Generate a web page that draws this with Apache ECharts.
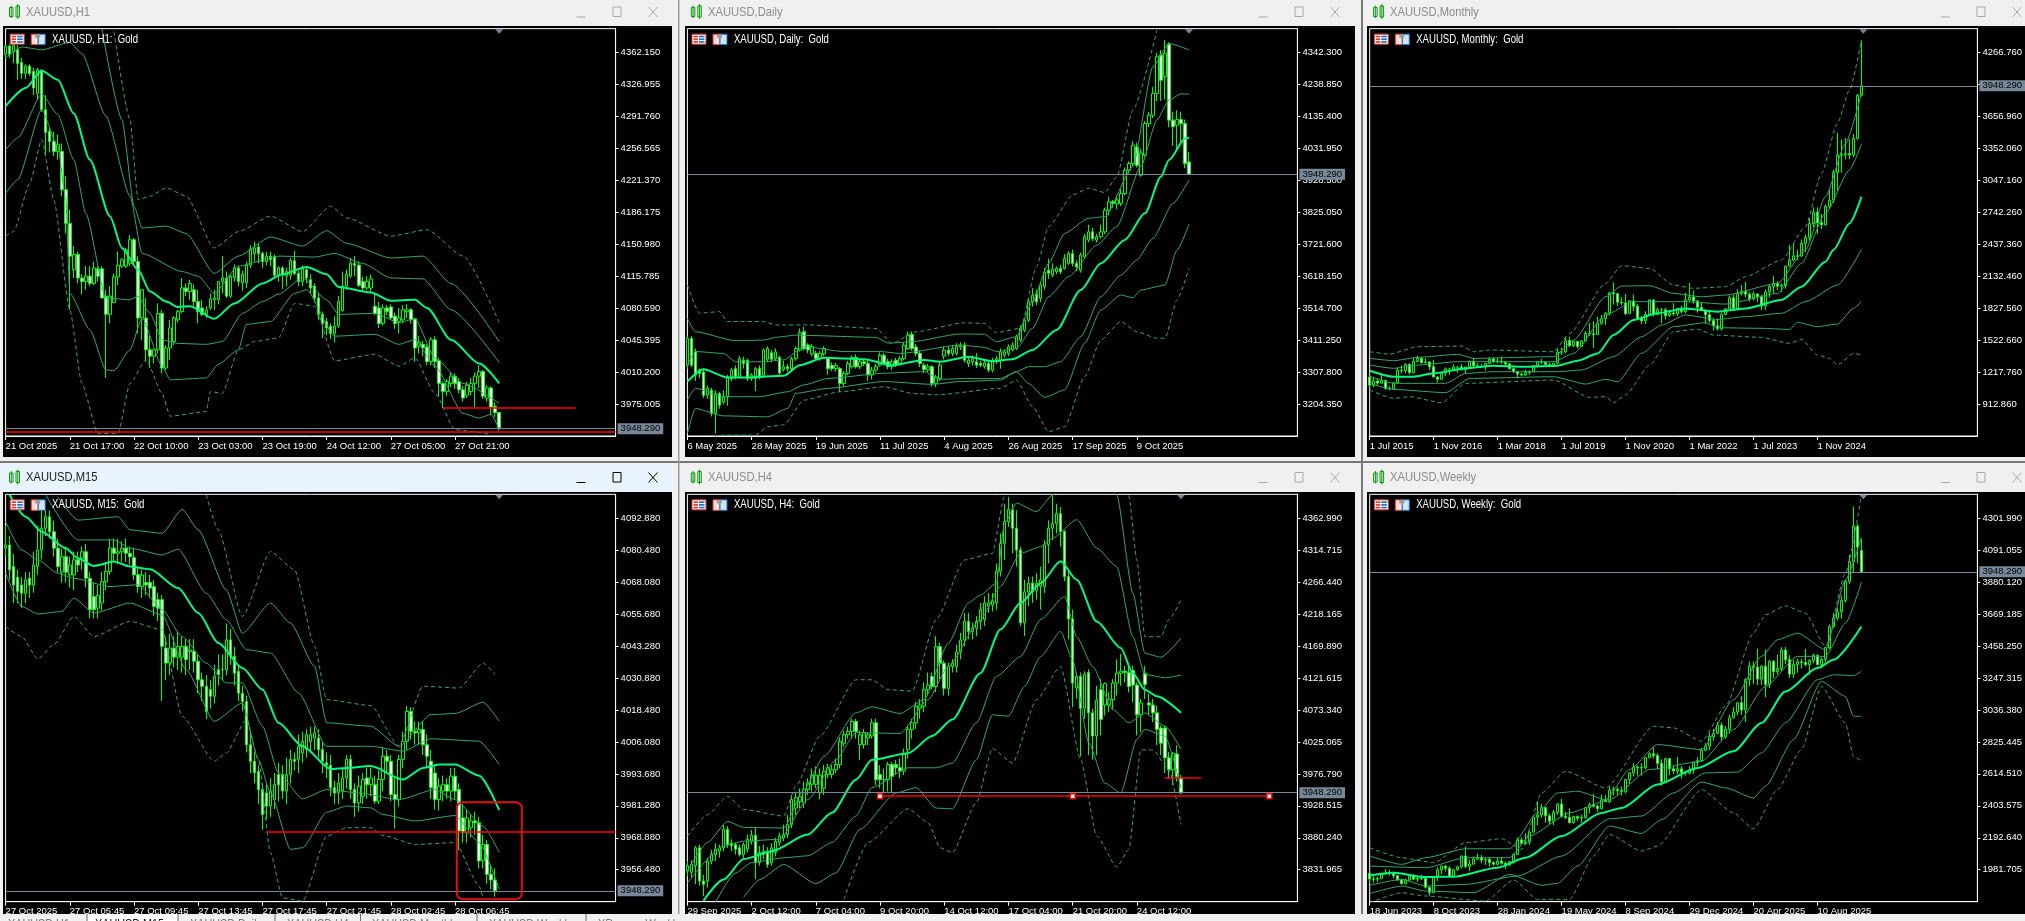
<!DOCTYPE html>
<html><head><meta charset="utf-8"><style>html,body{margin:0;padding:0;background:#f0f0f0;overflow:hidden}#c{width:2025px;height:921px}</style>
<script src="https://cdn.jsdelivr.net/npm/echarts@6/dist/echarts.min.js"></script></head><body><div id="c"></div><script>
const LAST=3948.29;
/* ---------- H1 ---------- */
const h1Ticks=['21 Oct 2025','21 Oct 17:00','22 Oct 10:00','23 Oct 03:00','23 Oct 19:00','24 Oct 12:00','27 Oct 05:00','27 Oct 21:00'];
const h1Prices=[4362.15,4326.955,4291.76,4256.565,4221.37,4186.175,4150.98,4115.785,4080.59,4045.395,4010.2,3975.005];
const h1Candles=[[4360,4369,4356,4370],[4369,4360,4356,4371],[4363,4370,4350,4372],[4365,4350,4332,4370],[4351,4339,4333,4356],[4339,4347,4333,4349],[4347,4339,4336,4349],[4341,4323,4315,4345],[4317,4343,4310,4345],[4342,4299,4297,4344],[4299,4274,4248,4315],[4275,4264,4252,4279],[4264,4253,4248,4275],[4253,4261,4244,4272],[4253,4211,4204,4262],[4211,4174,4163,4226],[4174,4138,4079,4189],[4123,4140,4114,4149],[4140,4114,4108,4143],[4114,4110,4096,4118],[4110,4116,4101,4127],[4116,4108,4105,4127],[4108,4125,4106,4132],[4124,4116,4110,4127],[4124,4092,4092,4127],[4094,4074,4004,4101],[4074,4094,4064,4105],[4087,4115,4087,4119],[4115,4128,4106,4143],[4127,4134,4125,4136],[4127,4145,4125,4147],[4130,4156,4127,4161],[4156,4132,4127,4158],[4132,4070,4053,4138],[4070,4101,4046,4101],[4070,4035,4022,4092],[4035,4028,4015,4050],[4028,4035,4020,4036],[4035,4075,4031,4086],[4075,4015,4009,4079],[4015,4037,4013,4040],[4037,4059,4024,4068],[4044,4070,4040,4072],[4068,4077,4065,4079],[4077,4103,4075,4114],[4103,4099,4094,4108],[4099,4108,4090,4112],[4101,4088,4083,4107],[4088,4077,4064,4101],[4081,4074,4072,4090],[4074,4079,4070,4083],[4081,4091,4079,4097],[4090,4092,4079,4101],[4090,4110,4085,4110],[4110,4114,4097,4138],[4114,4094,4092,4121],[4094,4116,4092,4118],[4114,4125,4110,4129],[4125,4110,4105,4127],[4109,4118,4100,4122],[4109,4128,4103,4132],[4128,4146,4125,4150],[4141,4147,4132,4154],[4148,4141,4130,4152],[4141,4132,4125,4143],[4132,4138,4128,4143],[4138,4134,4127,4143],[4137,4117,4113,4140],[4117,4125,4110,4127],[4125,4117,4102,4127],[4116,4121,4105,4125],[4117,4133,4112,4136],[4133,4119,4117,4144],[4119,4110,4105,4122],[4110,4125,4105,4128],[4123,4114,4108,4127],[4112,4103,4096,4118],[4105,4092,4087,4108],[4092,4074,4068,4098],[4074,4064,4048,4077],[4066,4059,4051,4070],[4061,4053,4047,4064],[4053,4061,4043,4072],[4061,4088,4059,4094],[4078,4105,4077,4121],[4105,4118,4101,4123],[4116,4130,4114,4136],[4130,4128,4116,4138],[4128,4106,4104,4132],[4110,4103,4100,4115],[4103,4110,4101,4116],[4103,4113,4098,4118],[4083,4075,4073,4097],[4081,4064,4059,4088],[4064,4081,4062,4085],[4081,4077,4073,4084],[4082,4070,4068,4085],[4072,4064,4058,4076],[4066,4070,4053,4081],[4068,4079,4064,4084],[4077,4079,4070,4085],[4079,4068,4064,4081],[4069,4037,4022,4070],[4039,4043,4031,4050],[4041,4037,4028,4045],[4038,4022,4018,4041],[4022,4046,4018,4049],[4046,4022,4015,4050],[4023,3998,3984,4026],[3998,3989,3971,4000],[3989,4000,3984,4003],[3998,4006,3994,4010],[4006,3998,3992,4009],[4000,3991,3987,4004],[3991,3982,3978,3995],[3985,3996,3982,4000],[3989,3998,3985,4004],[3998,4006,3972,4010],[4006,4011,3993,4018],[4011,3984,3981,4013],[3982,3993,3978,3996],[3993,3972,3963,3995],[3973,3966,3961,3977],[3966,3949,3946,3966]];
const h1Mid=[[0,4303],[5,4323],[9,4342],[13,4332],[17,4295],[21,4244],[26,4182],[29,4147],[33,4123],[36,4099],[40,4088],[43,4082],[46,4083],[52,4069],[57,4086],[64,4108],[69,4118],[75,4126],[80,4118],[83,4104],[91,4098],[96,4089],[102,4090],[105,4081],[111,4046],[118,4020],[123,3998]];
const h1U1=[[0,4356],[4,4368],[9,4365],[16,4373],[19,4361],[25,4292],[31,4204],[34,4141],[44,4121],[48,4116],[52,4097],[58,4127],[68,4138],[77,4137],[82,4141],[89,4130],[96,4114],[104,4113],[111,4079],[123,4021]];
const h1U2=[[24,4388],[29,4288],[32,4193],[34,4169],[40,4171],[45,4163],[52,4119],[58,4138],[66,4159],[74,4149],[80,4166],[85,4152],[96,4136],[104,4138],[111,4108],[123,4044]];
const h1U3=[[27,4385],[31,4288],[33,4200],[36,4204],[40,4213],[45,4204],[52,4147],[58,4165],[66,4182],[74,4165],[81,4193],[85,4180],[96,4160],[105,4167],[114,4138],[123,4065]];
const h1L1=[[0,4255],[3,4268],[9,4316],[13,4294],[17,4244],[20,4185],[25,4092],[31,4090],[33,4094],[36,4075],[39,4046],[43,4042],[50,4041],[54,4044],[59,4075],[64,4088],[68,4096],[74,4114],[80,4090],[83,4074],[92,4075],[98,4065],[102,4069],[107,4026],[114,3998],[123,3976]];
const h1L2=[[0,4207],[3,4222],[9,4299],[13,4259],[15,4200],[16,4097],[21,4057],[25,4013],[27,4012],[31,4035],[34,4070],[39,4017],[41,4002],[50,4004],[53,4019],[58,4035],[60,4063],[66,4066],[72,4097],[75,4101],[82,4050],[92,4052],[98,4041],[102,4046],[107,4017],[114,3965],[118,3960],[121,3964],[123,3947]];
const h1L3=[[0,4160],[2,4165],[6,4218],[9,4266],[12,4200],[16,4079],[19,3998],[23,3943],[28,3943],[31,3998],[35,4024],[39,3987],[41,3962],[50,3967],[51,3989],[54,3987],[58,4035],[62,4044],[68,4048],[72,4086],[77,4083],[82,4023],[92,4030],[98,4017],[102,4026],[107,3987],[112,3947],[121,3942]];
const h1Red=[[0,3944.6,152,3944.6],[109,3971,142,3971]];
/* ---------- Daily ---------- */
const dTicks=['6 May 2025','28 May 2025','19 Jun 2025','11 Jul 2025','4 Aug 2025','26 Aug 2025','17 Sep 2025','9 Oct 2025'];
const dPrices=[4342.3,4238.85,4135.4,4031.95,3928.5,3825.05,3721.6,3618.15,3514.7,3411.25,3307.8,3204.35];
const dCandles=[[3331,3417,3320,3425],[3417,3331,3325,3425],[3374,3299,3280,3385],[3315,3304,3290,3320],[3309,3234,3225,3320],[3234,3256,3222,3265],[3250,3175,3165,3258],[3175,3239,3110,3250],[3239,3202,3190,3245],[3212,3228,3205,3250],[3228,3293,3200,3300],[3288,3315,3280,3322],[3320,3293,3285,3330],[3293,3352,3288,3360],[3347,3336,3320,3358],[3347,3288,3280,3352],[3288,3299,3280,3305],[3288,3320,3247,3325],[3320,3293,3285,3330],[3299,3380,3290,3385],[3350,3385,3342,3392],[3371,3350,3340,3380],[3352,3374,3345,3385],[3356,3306,3300,3362],[3317,3326,3310,3345],[3326,3320,3310,3335],[3320,3352,3312,3358],[3352,3385,3345,3392],[3380,3436,3375,3450],[3439,3385,3378,3455],[3396,3380,3370,3402],[3367,3392,3360,3400],[3369,3352,3345,3378],[3352,3369,3345,3378],[3367,3385,3360,3392],[3352,3320,3300,3358],[3330,3320,3312,3340],[3320,3330,3310,3338],[3320,3272,3245,3326],[3272,3304,3260,3312],[3304,3336,3298,3345],[3326,3356,3320,3362],[3356,3326,3320,3366],[3326,3342,3318,3350],[3342,3336,3328,3350],[3336,3299,3280,3345],[3299,3315,3285,3325],[3315,3326,3308,3335],[3331,3363,3326,3372],[3363,3336,3330,3370],[3342,3326,3318,3352],[3326,3342,3316,3350],[3347,3331,3325,3355],[3336,3352,3330,3360],[3352,3396,3346,3405],[3385,3428,3380,3440],[3430,3385,3378,3440],[3390,3369,3360,3400],[3369,3336,3325,3378],[3331,3317,3305,3338],[3315,3326,3308,3335],[3326,3272,3262,3332],[3272,3293,3260,3300],[3288,3331,3280,3342],[3360,3380,3350,3392],[3380,3369,3360,3392],[3369,3385,3360,3395],[3369,3392,3362,3402],[3390,3396,3380,3405],[3396,3347,3340,3405],[3336,3347,3325,3355],[3342,3352,3330,3362],[3342,3331,3322,3370],[3336,3331,3325,3345],[3327,3338,3320,3345],[3336,3315,3308,3345],[3315,3347,3308,3355],[3342,3352,3335,3360],[3347,3374,3320,3385],[3363,3374,3355,3382],[3369,3390,3360,3398],[3380,3396,3375,3405],[3385,3423,3380,3430],[3412,3450,3405,3460],[3444,3476,3438,3482],[3476,3536,3470,3545],[3536,3557,3520,3580],[3562,3536,3525,3575],[3547,3590,3535,3600],[3585,3632,3575,3645],[3638,3628,3610,3675],[3622,3640,3615,3660],[3633,3644,3625,3650],[3644,3633,3625,3655],[3644,3676,3640,3690],[3660,3692,3655,3700],[3692,3660,3650,3705],[3660,3649,3635,3670],[3638,3687,3630,3695],[3681,3746,3676,3755],[3735,3762,3728,3785],[3762,3740,3732,3775],[3735,3746,3728,3755],[3746,3762,3740,3785],[3762,3832,3755,3840],[3832,3859,3815,3875],[3859,3854,3840,3865],[3852,3865,3835,3880],[3854,3886,3845,3900],[3886,3961,3880,3970],[3961,3983,3950,3990],[3983,4042,3975,4055],[4036,3977,3970,4050],[3945,4017,3940,4030],[4010,4112,4005,4120],[4112,4139,4100,4150],[4139,4209,4130,4230],[4209,4328,4185,4340],[4333,4252,4185,4350],[4264,4339,4190,4382],[4368,4123,4100,4375],[4123,4102,4040,4150],[4107,4125,4030,4155],[4125,4112,4050,4150],[4112,3983,3968,4125],[3988,3948,3946,4020]];
const dMid=[[0,3278],[4,3318],[10,3291],[15,3291],[24,3297],[28,3331],[34,3355],[44,3350],[51,3331],[59,3348],[63,3342],[70,3358],[76,3344],[81,3350],[86,3380],[92,3445],[98,3574],[103,3660],[109,3736],[114,3822],[118,3940],[120,3994],[124,4064],[125,4067]];
const dU1=[[0,3331],[2,3375],[9,3369],[12,3342],[19,3342],[24,3348],[29,3391],[39,3375],[48,3375],[53,3369],[68,3396],[74,3389],[77,3375],[82,3385],[86,3450],[90,3552],[95,3617],[102,3719],[107,3779],[113,3973],[117,4124],[120,4188],[123,4208],[125,4207]];
const dU2=[[0,3482],[2,3439],[12,3410],[19,3412],[22,3421],[27,3428],[47,3421],[50,3402],[56,3407],[68,3432],[74,3431],[77,3407],[82,3423],[86,3536],[90,3660],[94,3757],[100,3806],[104,3811],[111,3973],[116,4296],[120,4371],[125,4350]];
const dU3=[[0,3590],[3,3499],[8,3504],[10,3472],[19,3472],[22,3461],[30,3461],[47,3450],[51,3402],[57,3439],[69,3468],[74,3466],[77,3436],[83,3450],[87,3649],[90,3779],[96,3881],[100,3903],[104,3889],[107,3940],[111,4156],[117,4414]];
const dL1=[[0,3218],[2,3256],[9,3229],[18,3229],[25,3245],[29,3267],[35,3288],[49,3305],[59,3310],[63,3285],[69,3288],[78,3288],[82,3310],[85,3326],[89,3326],[93,3342],[98,3423],[103,3552],[108,3622],[112,3671],[116,3741],[121,3854],[125,3930]];
const dL2=[[0,3111],[2,3191],[9,3167],[20,3164],[25,3191],[27,3240],[35,3256],[49,3278],[61,3269],[68,3278],[78,3283],[82,3310],[85,3272],[89,3227],[94,3251],[99,3402],[103,3509],[108,3558],[111,3549],[113,3574],[119,3590],[122,3703],[125,3787]];
const dL3=[[0,3068],[9,3105],[17,3105],[20,3132],[24,3138],[29,3218],[38,3245],[49,3261],[56,3240],[62,3235],[78,3256],[82,3283],[86,3197],[90,3116],[94,3132],[99,3294],[103,3412],[108,3472],[112,3439],[117,3418],[119,3418],[122,3542],[125,3644]];
/* ---------- Monthly ---------- */
const mTicks=['1 Jul 2015','1 Nov 2016','1 Mar 2018','1 Jul 2019','1 Nov 2020','1 Mar 2022','1 Jul 2023','1 Nov 2024'];
const mPrices=[4266.76,3961.86,3656.96,3352.06,3047.16,2742.26,2437.36,2132.46,1827.56,1522.66,1217.76,912.86];
const mCandles=[[1172,1095,1080,1180],[1095,1135,1078,1170],[1135,1115,1098,1157],[1115,1142,1108,1191],[1142,1065,1052,1146],[1065,1061,1046,1088],[1061,1118,1060,1125],[1118,1238,1110,1263],[1238,1233,1208,1284],[1233,1293,1208,1304],[1293,1215,1199,1303],[1215,1322,1208,1362],[1322,1351,1312,1375],[1351,1309,1301,1367],[1309,1316,1303,1352],[1316,1272,1241,1325],[1272,1173,1171,1338],[1173,1152,1122,1180],[1152,1211,1146,1220],[1211,1249,1180,1264],[1249,1249,1195,1261],[1249,1268,1240,1295],[1268,1268,1214,1270],[1268,1242,1236,1296],[1242,1269,1205,1270],[1269,1321,1267,1331],[1321,1280,1271,1357],[1280,1271,1261,1306],[1271,1275,1264,1299],[1275,1303,1236,1307],[1303,1345,1302,1366],[1345,1318,1307,1361],[1318,1325,1303,1356],[1325,1315,1301,1369],[1315,1298,1282,1326],[1298,1253,1245,1308],[1253,1224,1211,1265],[1224,1201,1160,1224],[1201,1192,1180,1215],[1192,1215,1183,1243],[1215,1222,1196,1237],[1222,1282,1221,1284],[1282,1321,1276,1326],[1321,1313,1300,1347],[1313,1292,1281,1324],[1292,1283,1266,1311],[1283,1305,1272,1309],[1305,1409,1296,1439],[1409,1413,1382,1452],[1413,1520,1401,1555],[1520,1472,1459,1557],[1472,1513,1458,1518],[1513,1464,1445,1514],[1464,1517,1459,1524],[1517,1589,1517,1611],[1589,1586,1563,1689],[1586,1577,1451,1704],[1577,1686,1576,1747],[1686,1730,1670,1765],[1730,1781,1671,1789],[1781,1975,1757,1984],[1975,1967,1863,2075],[1967,1886,1848,1973],[1886,1879,1860,1933],[1879,1777,1764,1965],[1777,1898,1775,1906],[1898,1847,1802,1959],[1847,1734,1717,1871],[1734,1708,1677,1755],[1708,1769,1677,1798],[1769,1907,1761,1913],[1907,1770,1750,1916],[1770,1814,1761,1834],[1814,1814,1684,1831],[1814,1757,1722,1834],[1757,1783,1746,1814],[1783,1774,1758,1877],[1774,1829,1753,1831],[1829,1797,1780,1853],[1797,1909,1781,1974],[1909,1937,1895,2070],[1937,1897,1872,1998],[1897,1837,1787,1910],[1837,1807,1805,1879],[1807,1766,1681,1815],[1766,1711,1690,1808],[1711,1661,1615,1735],[1661,1633,1617,1730],[1633,1768,1616,1786],[1768,1824,1765,1824],[1824,1928,1824,1949],[1928,1826,1804,1960],[1826,1969,1810,2009],[1969,1990,1950,2048],[1990,1962,1932,2079],[1962,1919,1893,1984],[1919,1965,1903,1987],[1965,1940,1885,1966],[1940,1849,1811,1953],[1849,1984,1810,2009],[1984,2036,1931,2052],[2036,2063,1973,2135],[2063,2039,2002,2088],[2039,2044,1985,2065],[2044,2230,2016,2235],[2230,2286,2228,2431],[2286,2327,2277,2450],[2327,2326,2287,2387],[2326,2447,2319,2483],[2447,2503,2364,2531],[2503,2635,2471,2685],[2635,2744,2603,2790],[2744,2643,2537,2790],[2643,2624,2583,2726],[2624,2798,2615,2817],[2798,2858,2772,2956],[2858,3123,2833,3149],[3123,3288,2957,3500],[3288,3289,3121,3435],[3289,3303,3247,3451],[3303,3290,3248,3439],[3290,3447,3268,3489],[3447,3858,3436,3872],[3858,3948,3845,4381]];
const mMid=[[0,1233],[6,1176],[11,1176],[16,1208],[24,1255],[31,1281],[39,1271],[47,1281],[52,1329],[57,1398],[61,1573],[66,1716],[72,1780],[79,1827],[87,1795],[94,1827],[103,1907],[108,2034],[114,2272],[116,2383],[120,2637],[123,2891]];
const mU1=[[0,1287],[6,1256],[12,1287],[22,1319],[26,1319],[46,1319],[51,1398],[59,1764],[66,1891],[79,1891],[89,1868],[102,1970],[108,2256],[114,2732],[120,3145],[123,3393]];
const mU2=[[0,1351],[6,1329],[12,1360],[22,1389],[26,1351],[46,1367],[51,1525],[59,1938],[63,2040],[70,2043],[76,1970],[83,1938],[89,1954],[102,2065],[109,2383],[114,2891],[119,3399],[123,3876]];
const mU3=[[0,1414],[5,1392],[12,1462],[23,1468],[26,1414],[30,1430],[46,1414],[50,1589],[59,2065],[63,2234],[70,2208],[76,2049],[81,2018],[89,2034],[94,2129],[103,2288],[109,2605],[113,3113],[117,3590],[120,3907],[123,4384]];
const mL1=[[0,1182],[6,1113],[19,1113],[24,1208],[31,1224],[47,1224],[53,1240],[61,1367],[68,1557],[73,1668],[79,1764],[87,1722],[94,1748],[103,1780],[109,1891],[117,2049],[123,2389]];
const mL2=[[0,1113],[6,1055],[19,1024],[25,1160],[46,1176],[54,1106],[59,1151],[62,1128],[68,1398],[76,1653],[84,1691],[87,1643],[98,1637],[105,1627],[107,1694],[112,1653],[117,1678],[121,1827],[123,1891]];
const mL3=[[0,1049],[6,970],[10,986],[18,928],[24,1113],[46,1144],[55,979],[59,986],[61,928],[64,1001],[70,1287],[76,1605],[82,1630],[86,1573],[98,1551],[105,1494],[108,1532],[112,1383],[115,1351],[117,1287],[121,1398],[123,1383]];
/* ---------- M15 ---------- */
const qTicks=['27 Oct 2025','27 Oct 05:45','27 Oct 09:45','27 Oct 13:45','27 Oct 17:45','27 Oct 21:45','28 Oct 02:45','28 Oct 06:45'];
const qPrices=[4092.88,4080.48,4068.08,4055.68,4043.28,4030.88,4018.48,4006.08,3993.68,3981.28,3968.88,3956.48];
const qCandles=[[4081.3,4082.5,4078,4090],[4082.5,4072.9,4069,4086],[4074.2,4067,4060,4079],[4070,4064.5,4060,4073],[4067,4063.8,4058,4070],[4063.8,4069,4060,4072],[4069.6,4067,4062,4072],[4067,4074.8,4064,4080],[4074.2,4080.6,4071,4090],[4080.6,4089,4077,4096],[4089,4093.5,4086,4096],[4093.5,4087.7,4085,4096],[4087.7,4081.3,4078,4092],[4081.3,4074.2,4072,4085],[4072,4078,4068,4081],[4078,4072,4068,4082],[4070.9,4074.8,4066,4078],[4070.9,4076.8,4065,4080],[4076.8,4074.8,4072,4080],[4077.4,4079.9,4073,4082],[4079.9,4069.6,4066,4083],[4069.6,4057.4,4054,4072],[4062.5,4057.4,4054,4068],[4058,4063,4054,4067],[4060,4068.3,4057,4072],[4068.3,4072.3,4065,4076],[4072.3,4081.3,4071,4085],[4081.3,4079.3,4076,4085],[4079.3,4079.9,4075,4085],[4079.9,4081.3,4076,4084],[4081.3,4079.3,4076,4085],[4079.3,4078,4075,4082],[4077.6,4071,4069,4081],[4071,4066.4,4064,4074],[4066.4,4070.9,4062,4073],[4068,4067,4063,4072],[4068,4065.8,4062,4071],[4066.4,4058.7,4055,4069],[4061.3,4058,4053,4064],[4061.3,4043.2,4022,4063],[4042.5,4036.7,4030,4047],[4036.7,4042.5,4032,4048],[4042.5,4039,4035,4047],[4039,4043.2,4034,4049],[4039,4043.2,4033,4047],[4043.2,4038,4032,4046],[4041.2,4041.8,4034,4046],[4041.2,4037.4,4033,4046],[4037.4,4030.2,4025,4040],[4030.2,4027.7,4022,4033],[4027.7,4017.9,4015,4032],[4026.4,4023.8,4019,4030],[4023.8,4031.5,4021,4036],[4034.1,4032.2,4028,4040],[4034.1,4034.1,4030,4040],[4034.1,4045.7,4032,4052],[4045.7,4039.3,4036,4050],[4039.3,4032.8,4028,4043],[4033.5,4025,4022,4036],[4025,4021.8,4018,4028],[4021.8,4005,4002,4024],[4005,3998.6,3994,4010],[3998.6,3994.1,3990,4002],[3994.6,3987.6,3982,3997],[3987.6,3977.9,3972,3990],[3986.3,3981.2,3976,3990],[3981.2,3987,3977,3992],[3983.7,3989.5,3980,3994],[3993.4,3989.5,3983,3998],[3993.4,3987,3984,3997],[3987,3993.4,3982,4000],[3993.4,3999.3,3990,4003],[3999.3,3998.6,3995,4002],[3999.3,4004.4,3994,4009],[4001.8,4006.3,3998,4010],[4003.1,4008.9,4000,4011],[4006.3,4008.9,4002,4012],[4007.6,4009.6,4003,4012],[4007.6,4003.1,4000,4011],[4003.1,3998.6,3994,4006],[3998,3997,3992,4002],[3997,3988.3,3985,4001],[3988.3,3986.3,3982,3991],[3986.3,3990.2,3982,3994],[3987.2,3992.1,3984,3996],[3992.1,3999.3,3988,4001],[3999.3,3987.6,3984,4001],[3987.6,3982.4,3977,3990],[3982.4,3988.9,3979,3993],[3985,3991.5,3982,3994],[3992.1,3989.5,3984,3996],[3989.5,3992.1,3985,3996],[3989.5,3983.1,3982,3993],[3983.1,3991.5,3982,3995],[3991.5,4000.5,3987,4004],[4000.5,3998.6,3994,4003],[3998.6,3985.7,3983,4001],[3985.7,3983.7,3972.5,3992],[3983.7,3999.3,3981,4001],[3999.3,4006.3,3996,4010],[4006.3,4017.9,4003,4020],[4017.9,4010.2,4007,4019.5],[4010.2,4009.6,4005,4014],[4009.6,4010.9,4005,4014],[4010.9,4005,4001,4014],[4005,4000.5,3996,4009],[3998.6,3988.3,3984,4003],[3994,3983.7,3980,3997],[3983.7,3988.9,3979.5,3992],[3987,3989.5,3983,3993],[3989.5,3987,3984,3992],[3987,3992.8,3983,3996],[3992.8,3987,3984,3996],[3987.6,3971.5,3964,3990],[3976.6,3970.8,3967,3982],[3970.8,3976.6,3967,3980],[3972.8,3975.4,3969,3978],[3975.4,3974.7,3970,3979],[3974.7,3959.9,3957,3977],[3960,3966.3,3957,3970],[3966.3,3954.7,3951,3968],[3954.7,3952.5,3949,3958],[3952.5,3948.3,3946,3957]];
const qMid=[[1,4102],[5,4093.5],[9,4087.7],[15,4081.3],[18,4077.4],[22,4074.4],[27,4076.1],[31,4074.2],[36,4073.1],[43,4065.8],[48,4056.1],[53,4044.5],[59,4034.8],[64,4026.4],[68,4013.5],[74,4004.4],[81,3995.6],[85,3996],[91,3996.7],[99,3991.5],[104,3996],[108,3997.3],[112,3997.3],[118,3993],[123,3979.6]];
const qU1=[[10,4102],[18,4084.5],[27,4084.5],[31,4081.3],[39,4078.7],[43,4080.9],[50,4063.8],[55,4053.5],[60,4041.9],[66,4040.6],[73,4025.1],[80,4004.4],[91,4004.4],[99,4002.5],[106,4007.3],[118,4006.4],[123,3997.3]];
const qU2=[[13,4101.3],[18,4092.2],[28,4093.5],[31,4088.4],[39,4087.1],[44,4096.4],[48,4088.4],[55,4065.1],[59,4048.3],[66,4060],[71,4052.2],[77,4035.4],[80,4013.5],[91,4012.2],[98,4004.4],[106,4016.7],[112,4017.1],[119,4021.5],[123,4014.1]];
const qU3=[[50,4102],[53,4088.4],[59,4054.8],[66,4080],[72,4072.9],[77,4043.2],[80,4022.5],[91,4020.2],[98,4004.4],[104,4027.7],[113,4027],[119,4036.7],[122,4032.2]];
const qL1=[[0,4091.6],[4,4080.6],[8,4076.8],[13,4071.6],[17,4069.6],[26,4066.4],[33,4067.1],[39,4057.4],[44,4047],[50,4036.7],[55,4029],[59,4029],[64,4012.2],[68,3994.1],[74,3984],[80,3987.6],[88,3986.3],[98,3983.7],[107,3987.6],[112,3983.7],[119,3973.4],[123,3963.1]];
const qL2=[[0,4071.6],[4,4058.7],[8,4055.8],[14,4056.7],[17,4061.9],[22,4056.1],[31,4060],[39,4055.4],[45,4034.1],[52,4014.1],[59,4021.2],[63,3999.2],[66,3986.3],[71,3964.4],[74,3965],[80,3978.8],[85,3981.2],[91,3980.5],[94,3977.9],[102,3975.4],[112,3977.5],[118,3967],[123,3948.9]];
const qL3=[[0,4050.9],[4,4047],[8,4038.3],[12,4043.8],[17,4054.8],[22,4047],[31,4052.9],[39,4049.6],[44,4016],[52,3998.6],[55,4001.8],[60,4014.7],[63,3999.2],[66,3963.1],[69,3945.6],[74,3944.3],[80,3969.5],[85,3972.8],[91,3972.8],[94,3969.8],[102,3966.3],[112,3967],[118,3950.2],[119,3945]];
const qRed=[[65,3971.2,152,3971.2]];
/* ---------- H4 ---------- */
const fTicks=['29 Sep 2025','2 Oct 12:00','7 Oct 04:00','9 Oct 20:00','14 Oct 12:00','17 Oct 04:00','21 Oct 20:00','24 Oct 12:00'];
const fPrices=[4362.99,4314.715,4266.44,4218.165,4169.89,4121.615,4073.34,4025.065,3976.79,3928.515,3880.24,3831.965];
const fCandles=[[3830,3838,3822,3845],[3828,3840,3820,3846],[3838,3865,3810,3868],[3865,3815,3808,3870],[3815,3810,3792,3824],[3815,3845,3805,3850],[3845,3855,3840,3862],[3855,3863,3845,3872],[3860,3865,3850,3870],[3865,3893,3860,3900],[3893,3870,3865,3898],[3872,3868,3860,3878],[3870,3863,3855,3873],[3865,3855,3852,3870],[3855,3870,3850,3873],[3863,3878,3858,3885],[3875,3884,3870,3892],[3884,3843,3818,3896],[3843,3858,3838,3868],[3855,3860,3848,3870],[3858,3840,3835,3866],[3843,3865,3838,3872],[3858,3875,3852,3880],[3873,3883,3868,3888],[3880,3885,3875,3900],[3885,3900,3880,3915],[3900,3938,3895,3945],[3925,3941,3915,3950],[3935,3943,3925,3955],[3933,3953,3925,3965],[3953,3963,3945,3970],[3961,3975,3950,3985],[3961,3975,3955,3988],[3948,3975,3938,3985],[3955,3981,3945,3990],[3976,3986,3970,3992],[3976,3983,3970,3990],[3983,3991,3978,4000],[3991,4026,3985,4032],[4023,4036,4018,4042],[4036,4041,4030,4048],[4041,4056,4030,4060],[4056,4041,4030,4060],[4021,4036,3998,4042],[4021,4039,4015,4045],[4031,4036,4020,4040],[4034,4054,4030,4060],[4054,3968,3960,4060],[3976,3968,3955,3990],[3968,3968,3948,3985],[3968,3991,3950,3995],[3991,3973,3948,3995],[3991,3986,3975,3998],[3986,3981,3970,4000],[3981,4007,3975,4015],[4013,4044,4000,4050],[4044,4054,4030,4060],[4054,4079,4045,4085],[4076,4081,4060,4090],[4079,4104,4070,4115],[4104,4111,4095,4130],[4124,4109,4105,4130],[4109,4169,4100,4185],[4169,4144,4120,4175],[4144,4106,4095,4148],[4106,4139,4095,4145],[4139,4144,4130,4150],[4139,4161,4130,4172],[4161,4179,4150,4190],[4179,4207,4170,4220],[4207,4192,4180,4220],[4192,4197,4180,4205],[4197,4207,4185,4215],[4207,4225,4195,4235],[4210,4235,4200,4245],[4230,4235,4220,4250],[4232,4238,4222,4250],[4235,4283,4225,4295],[4283,4325,4275,4340],[4325,4358,4300,4385],[4358,4376,4350,4395],[4376,4348,4310,4385],[4348,4315,4290,4375],[4315,4205,4200,4320],[4205,4252,4185,4270],[4252,4265,4230,4275],[4265,4252,4235,4275],[4254,4265,4240,4280],[4260,4270,4225,4290],[4260,4323,4250,4330],[4323,4348,4295,4360],[4348,4355,4330,4399],[4355,4370,4340,4385],[4370,4343,4320,4380],[4343,4275,4268,4345],[4275,4211,4180,4285],[4211,4114,4078,4225],[4107,4124,4090,4130],[4124,4076,4003,4130],[4076,4127,4060,4132],[4130,4069,4005,4135],[4069,4034,3998,4075],[4034,4088,4005,4110],[4104,4059,4035,4120],[4081,4113,4065,4115],[4081,4089,4070,4100],[4089,4114,4075,4120],[4114,4129,4095,4150],[4129,4132,4110,4158],[4132,4130,4115,4140],[4130,4109,4100,4145],[4133,4111,4085,4140],[4111,4066,4035,4115],[4066,4084,4040,4090],[4129,4112,4090,4140],[4084,4081,4065,4098],[4081,4069,4055,4090],[4069,4044,4020,4080],[4046,4023,4005,4050],[4046,4001,3978,4050],[4001,3983,3970,4010],[3983,4008,3960,4010],[4007,3973,3965,4020],[3971,3948,3946,3975]];
const fMid=[[4,3785],[9,3817],[14,3848],[21,3860],[30,3885],[36,3918],[42,3968],[46,3998],[55,4008],[61,4034],[66,4059],[73,4129],[78,4195],[83,4235],[88,4265],[93,4298],[97,4270],[102,4207],[108,4167],[111,4129],[114,4104],[117,4094],[123,4069]];
const fU1=[[0,3812],[9,3868],[14,3875],[23,3878],[30,3938],[37,3998],[42,4039],[53,4038],[60,4089],[65,4139],[73,4210],[78,4260],[83,4310],[88,4320],[91,4333],[97,4361],[102,4318],[107,4290],[111,4184],[114,4127],[119,4122],[123,4126]];
const fU2=[[0,3830],[5,3873],[10,3905],[14,3896],[24,3895],[29,3953],[34,4003],[42,4069],[46,4078],[53,4068],[59,4089],[65,4174],[70,4235],[73,4247],[77,4265],[79,4355],[82,4386],[87,4373],[91,4398],[94,4421],[105,4421],[107,4398],[111,4250],[114,4159],[118,4153],[123,4182]];
const fU3=[[0,3883],[5,3915],[10,3943],[14,3923],[24,3913],[27,3958],[33,4034],[42,4119],[46,4119],[50,4104],[56,4102],[62,4210],[69,4300],[76,4310],[79,4396],[81,4421],[108,4440],[110,4396],[112,4300],[114,4184],[118,4184],[120,4210],[123,4240]];
const fL1=[[4,3747],[12,3827],[16,3843],[24,3850],[30,3853],[36,3873],[42,3913],[46,3956],[55,3986],[62,3986],[66,3993],[72,4054],[77,4124],[83,4154],[88,4210],[94,4245],[97,4184],[101,4139],[106,4074],[110,4054],[114,4069],[119,4049],[123,4014]];
const fL2=[[14,3790],[18,3817],[24,3840],[32,3811],[37,3827],[43,3893],[52,3948],[57,3956],[62,3925],[66,3924],[72,3998],[76,4066],[80,4064],[84,4109],[88,4154],[93,4192],[96,4149],[100,4024],[104,3963],[108,3948],[112,4029],[114,4044],[119,4034],[123,3955]];
const fL3=[[39,3787],[45,3873],[55,3924],[60,3903],[63,3865],[66,3858],[72,3933],[76,4015],[81,3993],[87,4089],[93,4139],[98,3998],[102,3883],[107,3836],[110,3863],[113,4013],[116,4013],[120,3983],[123,3900]];
const fRed=[[48,3943.1,145,3943.1],[119,3970.8,128,3970.8]];
const fHandles=[[48,3943.1],[96,3943.1],[145,3943.1]];
/* ---------- Weekly ---------- */
const wTicks=['18 Jun 2023','8 Oct 2023','28 Jan 2024','19 May 2024','8 Sep 2024','29 Dec 2024','20 Apr 2025','10 Aug 2025'];
const wPrices=[4301.99,4091.055,3880.12,3669.185,3458.25,3247.315,3036.38,2825.445,2614.51,2403.575,2192.64,1981.705];
const wCandles=[[1958,1921,1893,1960],[1921,1919,1896,1938],[1919,1925,1902,1935],[1925,1955,1923,1963],[1955,1961,1950,1987],[1961,1959,1942,1982],[1959,1942,1925,1969],[1942,1913,1910,1946],[1913,1889,1885,1922],[1889,1914,1884,1925],[1914,1940,1904,1953],[1940,1919,1915,1953],[1919,1924,1901,1933],[1924,1925,1913,1947],[1925,1866,1857,1935],[1866,1832,1810,1869],[1832,1932,1825,1937],[1932,1981,1908,1997],[1981,2006,1953,2009],[2006,1992,1970,2010],[1992,1940,1931,2004],[1940,1981,1932,1988],[1981,2001,1973,2009],[2001,2072,1992,2076],[2072,2004,1990,2135],[2004,2019,1973,2048],[2019,2053,2016,2070],[2053,2064,2044,2088],[2064,2045,2024,2079],[2045,2049,2013,2063],[2049,2029,2002,2062],[2029,2018,2009,2037],[2018,2039,2010,2065],[2039,2024,2015,2065],[2024,2013,1985,2036],[2013,2035,2008,2041],[2035,2083,2023,2088],[2083,2179,2079,2195],[2179,2155,2146,2195],[2155,2165,2146,2222],[2165,2230,2146,2235],[2230,2329,2228,2332],[2329,2344,2274,2431],[2344,2392,2325,2417],[2392,2338,2292,2392],[2338,2302,2280,2352],[2302,2360,2277,2378],[2360,2415,2345,2422],[2415,2334,2325,2450],[2334,2327,2316,2364],[2327,2293,2287,2387],[2293,2333,2286,2339],[2333,2322,2302,2340],[2322,2326,2293,2345],[2326,2391,2319,2393],[2391,2411,2353,2425],[2411,2401,2394,2483],[2401,2386,2364,2412],[2386,2443,2379,2477],[2443,2431,2431,2477],[2431,2507,2421,2531],[2507,2512,2471,2531],[2512,2503,2477,2528],[2503,2497,2471,2530],[2497,2577,2485,2582],[2577,2621,2546,2626],[2621,2658,2598,2685],[2658,2653,2603,2670],[2653,2656,2603,2685],[2656,2721,2645,2725],[2721,2747,2718,2758],[2747,2736,2715,2790],[2736,2684,2643,2750],[2684,2563,2537,2710],[2563,2715,2560,2721],[2715,2649,2605,2721],[2649,2633,2613,2665],[2633,2648,2613,2726],[2648,2622,2583,2665],[2622,2621,2603,2635],[2621,2639,2610,2665],[2639,2690,2615,2695],[2690,2702,2665,2725],[2702,2770,2695,2785],[2770,2798,2765,2817],[2798,2861,2772,2886],[2861,2883,2834,2911],[2883,2936,2877,2956],[2936,2858,2833,2954],[2858,2909,2848,2930],[2909,2984,2880,3005],[2984,3023,2982,3057],[3023,3084,3002,3087],[3084,3037,3005,3128],[3037,3237,2957,3245],[3237,3326,3194,3357],[3326,3319,3208,3357],[3319,3240,3200,3440],[3240,3325,3202,3333],[3325,3204,3120,3435],[3204,3357,3180,3366],[3357,3289,3245,3366],[3289,3310,3271,3403],[3310,3432,3293,3451],[3432,3368,3340,3452],[3368,3273,3247,3398],[3273,3337,3248,3366],[3337,3355,3283,3375],[3355,3350,3310,3375],[3350,3336,3325,3439],[3336,3362,3268,3373],[3362,3396,3345,3409],[3396,3336,3330,3404],[3336,3371,3311,3382],[3371,3448,3353,3453],[3448,3587,3436,3600],[3587,3643,3578,3674],[3643,3685,3628,3708],[3685,3759,3640,3791],[3759,3886,3746,3897],[3886,4017,3870,4059],[4017,4250,3948,4379],[4250,4113,4005,4265],[4090,3948,3946,4165]];
const wMid=[[0,1944],[6,1962],[14,1933],[21,1936],[32,1995],[39,2061],[48,2204],[58,2357],[63,2390],[72,2544],[82,2654],[91,2764],[98,2951],[104,3159],[112,3313],[116,3368],[123,3588]];
const wU1=[[0,2006],[14,1995],[24,2061],[35,2061],[40,2204],[50,2357],[60,2445],[70,2643],[83,2698],[91,2907],[99,3192],[107,3390],[114,3390],[119,3610],[123,3880]];
const wU2=[[0,2072],[8,2017],[14,2061],[24,2120],[35,2120],[42,2357],[47,2489],[52,2500],[59,2445],[65,2643],[72,2808],[83,2775],[91,3104],[98,3390],[102,3500],[107,3544],[114,3434],[119,3895],[123,4177]];
const wU3=[[0,2127],[8,2061],[16,2028],[24,2160],[33,2186],[38,2116],[43,2489],[49,2632],[59,2522],[71,2929],[76,2918],[83,2830],[89,3061],[96,3544],[99,3665],[104,3724],[109,3676],[114,3456],[119,3939],[123,4456]];
const wL1=[[0,1879],[8,1918],[14,1874],[24,1885],[37,1940],[48,2072],[60,2318],[68,2336],[76,2489],[84,2621],[92,2626],[98,2753],[104,2951],[112,3236],[116,3269],[121,3263],[123,3291]];
const wL2=[[0,1824],[8,1874],[14,1841],[26,1830],[35,1951],[43,1879],[47,1892],[52,2006],[60,2270],[68,2221],[73,2313],[83,2560],[89,2522],[96,2456],[99,2533],[106,2841],[113,3225],[119,3126],[121,2995],[123,2995]];
const wL3=[[0,1764],[8,1830],[14,1808],[29,1775],[36,1914],[42,1786],[50,1786],[56,2072],[60,2215],[68,2105],[72,2138],[83,2511],[91,2357],[96,2252],[102,2511],[108,2775],[113,3192],[119,2951],[121,2731],[123,2698]];

/* ---------- layout ---------- */
const FONT='"Liberation Sans",sans-serif';
const PW=610,PH=407.33;
const P=[
{t:'XAUUSD,H1',s:'XAUUSD, H1:  Gold',wx:[3,672],tx:26,btn:[581,617,653],ty:0,pl:5.6,min:3940.18,max:4388.18,y:h1Prices,x:h1Ticks,c:h1Candles,b:[h1Mid,h1U1,h1U2,h1U3,h1L1,h1L2,h1L3],last:123,red:h1Red},
{t:'XAUUSD,Daily',s:'XAUUSD, Daily:  Gold',wx:[685,1355],tx:708,btn:[1263,1299,1335],ty:0,pl:687.4,min:3102,max:4418.8,y:dPrices,x:dTicks,c:dCandles,b:[dMid,dU1,dU2,dU3,dL1,dL2,dL3],last:125},
{t:'XAUUSD,Monthly',s:'XAUUSD, Monthly:  Gold',wx:[1367,2025],tx:1390,btn:[1945.6,1981,2017],ty:0,pl:1369.7,min:611.1,max:4492.3,y:mPrices,x:mTicks,c:mCandles,b:[mMid,mU1,mU2,mU3,mL1,mL2,mL3],last:123},
{t:'XAUUSD,M15',s:'XAUUSD, M15:  Gold',wx:[3,672],tx:26,btn:[581,617,653],ty:1,active:true,pl:5.6,min:3944.08,max:4102.2,y:qPrices,x:qTicks,c:qCandles,b:[qMid,qU1,qU2,qU3,qL1,qL2,qL3],last:123,red:qRed},
{t:'XAUUSD,H4',s:'XAUUSD, H4:  Gold',wx:[685,1355],tx:708,btn:[1263,1299,1335],ty:1,pl:687.4,min:3783.7,max:4399.2,y:fPrices,x:fTicks,c:fCandles,b:[fMid,fU1,fU2,fU3,fL1,fL2,fL3],last:123,red:fRed,handles:fHandles},
{t:'XAUUSD,Weekly',s:'XAUUSD, Weekly:  Gold',wx:[1367,2025],tx:1390,btn:[1945.6,1981,2017],ty:1,pl:1369.7,min:1770.8,max:4460.2,y:wPrices,x:wTicks,c:wCandles,b:[wMid,wU1,wU2,wU3,wL1,wL2,wL3],last:123}
];
const grid=[],xAxis=[],yAxis=[],series=[],g=[];
const rect=(x,y,w,h,fill,z,stroke)=>g.push({type:'rect',z:z||1,shape:{x,y,width:w,height:h},style:{fill,stroke:stroke||null,lineWidth:stroke?1:0}});
const line=(x1,y1,x2,y2,stroke,z)=>g.push({type:'line',z:z||1,shape:{x1,y1,x2,y2},style:{stroke,lineWidth:1}});
const text=(x,y,t,fill,size,sx,z)=>g.push({type:'text',z:z||5,x,y,scaleX:sx,style:{x:0,y:0,text:t,fill,font:size+'px '+FONT,textVerticalAlign:'middle'}});
rect(0,0,2025,921,'#f0f0f0',-10);
rect(0,461,2025,2,'#787878',-4);rect(678,0,1.5,914,'#9a9a9a',-4);rect(1361,0,2,914,'#787878',-4);
P.forEach((p,k)=>{
 const top=p.ty?494.33:28.67, wy=p.ty?492:26, wh=p.ty?422:431, ty=p.ty?477.5:12;
 if(p.active)rect(p.wx[0]-3,464,p.wx[1]-p.wx[0]+4,28,'#e8f3fe',-6);
 rect(p.wx[0],wy,p.wx[1]-p.wx[0],wh,'#000',-5);
 const gc=p.active?'#000':'#a8a8a8';
 text(p.tx,ty,p.t,p.active?'#222':'#8c8c8c',13,0.86);
 const ix=p.pl+3.9, iy=ty-7;
 rect(ix,iy+2.5,3.5,9,'rgba(0,0,0,0)',3,'#0a9a0a');line(ix+1.75,iy+0.5,ix+1.75,iy+13,'#0a9a0a',3);
 rect(ix+6.5,iy+1,3.5,11,'rgba(0,0,0,0)',3,'#0a9a0a');line(ix+8.25,iy-1,ix+8.25,iy+14,'#0a9a0a',3);
 const by0=ty+5;
 line(p.btn[0]-4.5,by0,p.btn[0]+4.5,by0,gc,3);
 rect(p.btn[1]-4,by0-10,8,9.5,'rgba(0,0,0,0)',3,gc);
 line(p.btn[2]-4.5,by0-10,p.btn[2]+4.5,by0,gc,3);line(p.btn[2]-4.5,by0,p.btn[2]+4.5,by0-10,gc,3);
 const lx=p.pl+4.6, ly=top+5.5;
 rect(lx,ly,14,10,'#fff',20,'#e03a2e');
 for(let r=0;r<3;r++){rect(lx+1.5,ly+1.5+r*2.7,4.5,1.7,'#e03a2e',21);rect(lx+7,ly+1.5+r*2.7,5.5,1.7,'#1c74c4',21);}
 rect(lx+21,ly,7,10.5,'#f3d9d4',20,'#e03a2e');rect(lx+28,ly,7,10.5,'#cfe6f6',20,'#1c74c4');
 rect(lx+25,ly,5,3.5,'#9a9a9a',21);rect(lx+25,ly+5,1,5,'#fff',21);
 text(p.pl+46.5,top+10.7,p.s,'#fff',12,0.8,20);
 const ax=p.pl+p.last*PW/152;
 g.push({type:'polygon',z:20,shape:{points:[[ax-4,top+0.5],[ax+4,top+0.5],[ax,top+5]]},style:{fill:'#778899'}});
 grid.push({left:p.pl,top,width:PW,height:PH,show:true,borderColor:'#fff',borderWidth:1,backgroundColor:'rgba(0,0,0,0)',containLabel:false});
 const cats=[];for(let i=0;i<=152;i++)cats.push(i%16===0?(p.x[i/16]||''):'');
 xAxis.push({type:'category',gridIndex:k,data:cats,boundaryGap:false,axisLine:{lineStyle:{color:'#fff'}},
  axisTick:{length:4,lineStyle:{color:'#fff'},interval:i=>i%16===0&&i<=112},
  axisLabel:{interval:i=>i%16===0,align:'left',color:'#fff',margin:5,fontFamily:FONT,fontSize:9.5},splitLine:{show:false}});
 yAxis.push({type:'value',gridIndex:k,position:'right',min:p.min,max:p.max,splitLine:{show:false},
  axisLine:{show:true,lineStyle:{color:'#fff'}},axisTick:{show:true,length:3,lineStyle:{color:'#fff'},customValues:p.y},
  axisLabel:{color:'#fff',margin:5,fontFamily:FONT,fontSize:9.5,customValues:p.y,formatter:v=>v.toFixed(3)}});
 const mlData=[{yAxis:LAST,lineStyle:{color:'#778899',width:1},label:{show:true,position:'end',distance:2,formatter:LAST.toFixed(3),color:'#000',backgroundColor:'#778899',padding:[1,3,0,3],fontFamily:FONT,fontSize:9.5}}];
 (p.red||[]).forEach(r=>mlData.push([{coord:[r[0],r[1]],lineStyle:{color:'#ff0000',width:1.5,type:'solid'},label:{show:false}},{coord:[r[2],r[3]]}]));
 const mp=(p.handles||[]).map(h=>({coord:h,symbol:'rect',symbolSize:5,itemStyle:{color:'#fff',borderColor:'#ff0000',borderWidth:1.5},label:{show:false}}));
 series.push({type:'candlestick',xAxisIndex:k,yAxisIndex:k,data:p.c,barWidth:3,clip:true,z:3,itemStyle:{color:'#000',color0:'#fff',borderColor:'#00ff00',borderColor0:'#00ff00',borderWidth:1},
  markLine:{silent:true,symbol:'none',animation:false,z:6,lineStyle:{type:'solid'},data:mlData},
  markPoint:{silent:true,animation:false,z:7,data:mp}});
 p.b.forEach((l,j)=>{
  const isMid=j===0, dashed=j===3||j===6;
  series.push({type:'line',xAxisIndex:k,yAxisIndex:k,data:l,symbol:'none',smooth:isMid?0.25:0.2,smoothMonotone:'x',clip:true,z:isMid?5:4,
   lineStyle:{color:isMid?'#00fa80':'#35a86b',width:isMid?2:1,type:dashed?[4,3]:'solid'}});
 });
});
g.push({type:'rect',z:30,shape:{x:456.8,y:802.3,width:65,height:97,r:6},style:{fill:'rgba(0,0,0,0)',stroke:'#e01010',lineWidth:2}});
rect(0,914,2025,7,'#f0f0f0',40);rect(87,914,91,7,'#fff',41);
[87,178,275,360.5,477,586].forEach(x=>line(x,914,x,921,'#6a6a6a',42));
[[8,'XAUUSD,H1'],[95,'XAUUSD,M15'],[190,'XAUUSD,Daily'],[287,'XAUUSD,H4'],[372,'XAUUSD,Monthly'],[489,'XAUUSD,Weekly'],[598,'XReason,Weekly']].forEach((t,i)=>text(t[0],925,t[1],i===1?'#111':'#777',12,0.9,43));
const chart=echarts.init(document.getElementById('c'),null,{renderer:'canvas'});
chart.setOption({animation:false,backgroundColor:'#f0f0f0',grid,xAxis,yAxis,series,graphic:{elements:g}});
</script></body></html>
